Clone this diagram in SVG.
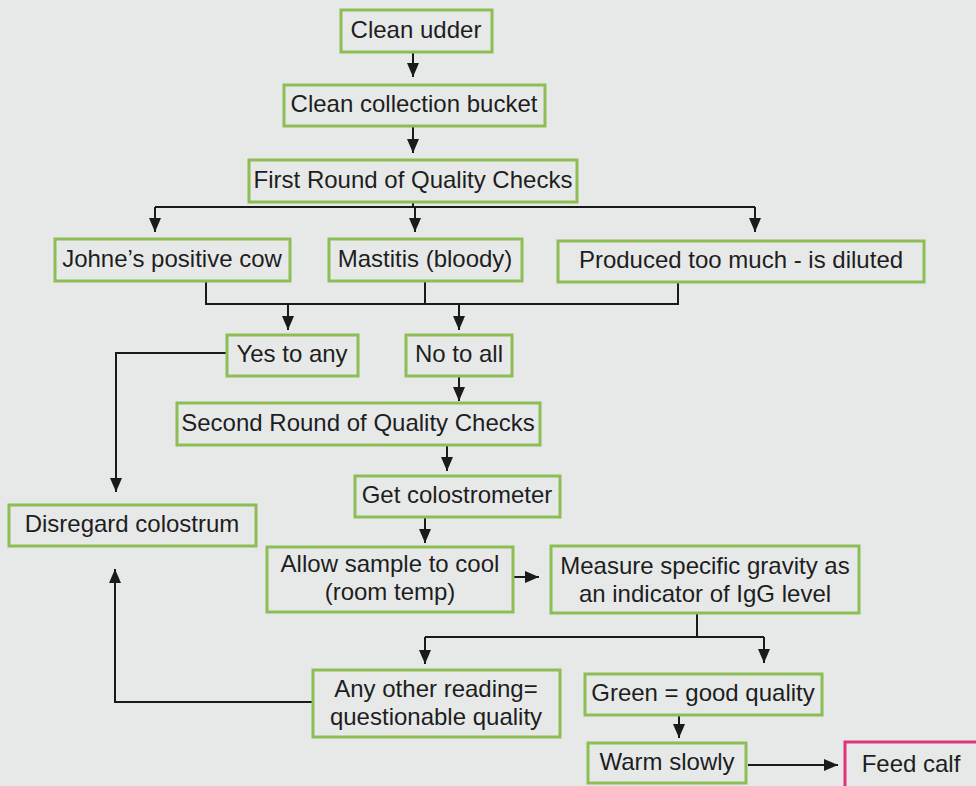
<svg xmlns="http://www.w3.org/2000/svg" width="976" height="786" viewBox="0 0 976 786">
<style>
.box{fill:#e7e9e9;stroke:#8dbe55;stroke-width:3}
.pink{fill:#e7e9e9;stroke:#e0337c;stroke-width:3}
.t{font-family:"Liberation Sans",Arial,sans-serif;font-size:24px;fill:#1e1e1e;text-anchor:middle}
.c{fill:none;stroke:#1a1a1a;stroke-width:2}
</style>
<defs>
<marker id="ahl" viewBox="0 0 14 12" refX="14" refY="6" markerWidth="14" markerHeight="12" markerUnits="userSpaceOnUse" orient="auto">
<path d="M0,0 L14,6 L0,12 Z" fill="#1a1a1a"/>
</marker>
</defs>
<rect width="976" height="786" fill="#e7e9e9"/>
<g id="connectors">
<path class="c" d="M413,52 V77" marker-end="url(#ahl)"/>
<path class="c" d="M413,126 V153" marker-end="url(#ahl)"/>
<path class="c" d="M413,202 V207 M155,207 H755"/>
<path class="c" d="M155,207 V232" marker-end="url(#ahl)"/>
<path class="c" d="M415,207 V232" marker-end="url(#ahl)"/>
<path class="c" d="M755,207 V232" marker-end="url(#ahl)"/>
<path class="c" d="M206,281 V304 H678 V282 M425,281 V304"/>
<path class="c" d="M288,304 V330" marker-end="url(#ahl)"/>
<path class="c" d="M459,304 V330" marker-end="url(#ahl)"/>
<path class="c" d="M227,353 H116 V492" marker-end="url(#ahl)"/>
<path class="c" d="M459,376 V401" marker-end="url(#ahl)"/>
<path class="c" d="M447,445 V471" marker-end="url(#ahl)"/>
<path class="c" d="M425,517 V543" marker-end="url(#ahl)"/>
<path class="c" d="M514,577 H539" marker-end="url(#ahl)"/>
<path class="c" d="M697,613 V637 M425,637 H764"/>
<path class="c" d="M425,637 V664" marker-end="url(#ahl)"/>
<path class="c" d="M764,637 V663" marker-end="url(#ahl)"/>
<path class="c" d="M313,702 H115 V569" marker-end="url(#ahl)"/>
<path class="c" d="M679,715 V738" marker-end="url(#ahl)"/>
<path class="c" d="M748,765 H838" marker-end="url(#ahl)"/>
</g>
<g id="clean-udder"><rect class="box" x="341" y="10" width="151" height="42"/><text class="t" x="416" y="38">Clean udder</text></g>
<g id="clean-bucket"><rect class="box" x="284" y="85" width="261" height="41"/><text class="t" x="414" y="112">Clean collection bucket</text></g>
<g id="first-round"><rect class="box" x="249" y="160" width="328" height="42"/><text class="t" x="413" y="188">First Round of Quality Checks</text></g>
<g id="johnes"><rect class="box" x="55" y="239" width="235" height="42"/><text class="t" x="172" y="267">Johne’s positive cow</text></g>
<g id="mastitis"><rect class="box" x="329" y="239" width="193" height="42"/><text class="t" x="425" y="267">Mastitis (bloody)</text></g>
<g id="diluted"><rect class="box" x="558" y="241" width="366" height="41"/><text class="t" x="741" y="268">Produced too much - is diluted</text></g>
<g id="yes"><rect class="box" x="227" y="335" width="131" height="41"/><text class="t" x="292" y="362">Yes to any</text></g>
<g id="no"><rect class="box" x="406" y="335" width="106" height="41"/><text class="t" x="459" y="362">No to all</text></g>
<g id="disregard"><rect class="box" x="9" y="505" width="247" height="41"/><text class="t" x="132" y="532">Disregard colostrum</text></g>
<g id="second-round"><rect class="box" x="177" y="403" width="363" height="42"/><text class="t" x="358" y="431">Second Round of Quality Checks</text></g>
<g id="colostrometer"><rect class="box" x="355" y="476" width="205" height="41"/><text class="t" x="457" y="503">Get colostrometer</text></g>
<g id="cool"><rect class="box" x="267" y="547" width="246" height="65"/><text class="t" x="390" y="571.5">Allow sample to cool</text><text class="t" x="390" y="600">(room temp)</text></g>
<g id="measure"><rect class="box" x="551" y="546" width="308" height="67"/><text class="t" x="705" y="574">Measure specific gravity as</text><text class="t" x="705" y="602">an indicator of IgG level</text></g>
<g id="other"><rect class="box" x="313" y="670" width="247" height="67"/><text class="t" x="436" y="697">Any other reading=</text><text class="t" x="436" y="725">questionable quality</text></g>
<g id="green"><rect class="box" x="585" y="674" width="237" height="41"/><text class="t" x="703" y="701">Green = good quality</text></g>
<g id="warm"><rect class="box" x="588" y="743" width="158" height="40"/><text class="t" x="667" y="770">Warm slowly</text></g>
<g id="feed"><rect class="pink" x="845" y="742" width="150" height="60"/><text class="t" x="911" y="772">Feed calf</text></g>
</svg>
